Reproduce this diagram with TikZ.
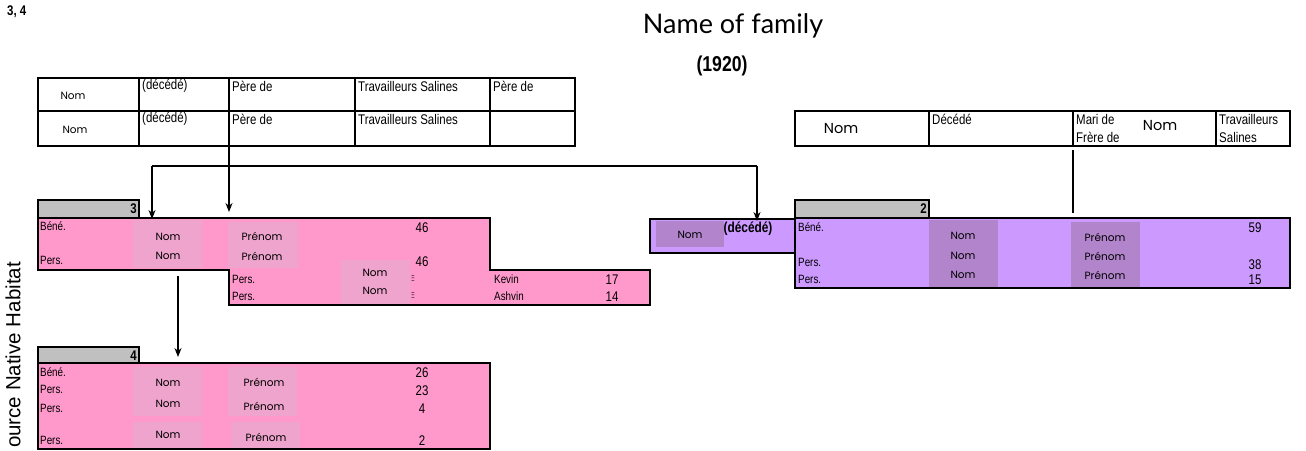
\documentclass[tikz,border=0pt]{standalone}
\usepackage{fontspec}
\setmainfont{Liberation Sans}
\newfontfamily\narrowf[FakeStretch=0.82]{Liberation Sans}
\newfontfamily\geof{Poppins}
\newfontfamily\titlef{Lato}
\usetikzlibrary{arrows.meta}
\definecolor{pinkbg}{RGB}{255,153,204}
\definecolor{pinkcell}{RGB}{238,164,204}
\definecolor{purplebg}{RGB}{204,153,255}
\definecolor{purplecell}{RGB}{178,132,204}
\definecolor{hdrgray}{RGB}{192,192,192}
\tikzset{
  lbl/.style={font=\narrowf\fontsize{12}{12}\selectfont, inner sep=0pt, anchor=west},
  tlbl/.style={font=\narrowf\fontsize{14}{14}\selectfont, inner sep=0pt, anchor=west},
  geo/.style={font=\geof\fontsize{10.5}{10.5}\selectfont, inner sep=0pt, anchor=center},
  bgeo/.style={font=\geof\fontsize{14.5}{14.5}\selectfont, inner sep=0pt, anchor=center},
  num/.style={font=\narrowf\fontsize{14}{14}\selectfont, inner sep=0pt, anchor=center},
  hnum/.style={font=\narrowf\bfseries\fontsize{14}{14}\selectfont, inner sep=0pt, anchor=east},
  tick/.style={font=\fontsize{9}{9}\selectfont, inner sep=0pt, xscale=0.45, yscale=1.4},
  pcell/.style={fill=pinkcell, draw=none, inner sep=0pt, anchor=north west},
  ucell/.style={fill=purplecell, draw=none, inner sep=0pt, anchor=north west},
  tbl/.style={draw, line width=1.4pt},
  outline/.style={line width=2.8pt, line join=miter},
  conn/.style={line width=1.2pt, -{Stealth[length=9pt,width=7pt]}},
  plain/.style={line width=1.2pt}
}
\begin{document}
\begin{tikzpicture}[x=1pt,y=-1pt]
\useasboundingbox[fill=white] (0,0) rectangle (1306,450);

% headings
\node[font=\narrowf\bfseries\fontsize{14}{14}\selectfont, inner sep=0pt, anchor=west] (ref) at (7,12) {3, 4};
\node[font=\titlef\fontsize{27}{27}\selectfont, inner sep=0pt, anchor=base] (title) at (733,33) {Name of family};
\node[font=\narrowf\bfseries\fontsize{21.5}{21.5}\selectfont, inner sep=0pt, anchor=base] (year) at (722,71) {(1920)};
\node[font=\fontsize{20.5}{20.5}\selectfont, inner sep=0pt, rotate=90] (src) at (13,355) {ource Native Habitat};

% top-left table
\draw[tbl] (38,78) rectangle (575,146);
\draw[tbl] (38,111) -- (575,111);
\foreach \cx in {139,229,355,490} \draw[tbl] (\cx,78) -- (\cx,146);
\node[geo] (tn1) at (73,96) {Nom};
\node[tlbl] (td1) at (142,86) {(décédé)};
\node[tlbl] (tp1) at (232,86) {Père de};
\node[tlbl] (tt1) at (358,86) {Travailleurs Salines};
\node[tlbl] (tq1) at (493,86) {Père de};
\node[geo] (tn2) at (75,130) {Nom};
\node[tlbl] (td2) at (142,119) {(décédé)};
\node[tlbl] (tp2) at (232,119) {Père de};
\node[tlbl] (tt2) at (358,119) {Travailleurs Salines};

% top-right table
\draw[tbl] (795,111) rectangle (1290,146);
\foreach \cx in {929,1073,1216} \draw[tbl] (\cx,111) -- (\cx,146);
\node[bgeo] (rn1) at (841,129) {Nom};
\node[tlbl] (rd1) at (932,119) {Décédé};
\node[tlbl] (rm1) at (1076,119) {Mari de};
\begin{scope}
\clip (1073,111) rectangle (1125,146);
\node[tlbl] (rf1) at (1076,137) {Frère de};
\end{scope}
\node[bgeo] (rn2) at (1160,126) {Nom};
\node[tlbl] (rt1) at (1219,119) {Travailleurs};
\node[tlbl] (rt2) at (1219,137) {Salines};

% ---------- box 3 (pink) ----------
\draw[outline, fill=hdrgray] (38,200) rectangle (139,218);
\node[hnum] (h3) at (137,209) {3};
\draw[outline, fill=pinkbg] (38,218) -- (490,218) -- (490,270) -- (650,270) -- (650,305) -- (229,305) -- (229,270) -- (38,270) -- cycle;
\node[pcell, minimum width=69pt, minimum height=48pt] (c3n) at (133,220) {};
\node[pcell, minimum width=70pt, minimum height=46pt] (c3p) at (228,222) {};
\node[pcell, minimum width=69pt, minimum height=44pt] (c3m) at (341,260) {};
\draw[outline] (229,270) -- (229,305) -- (650,305) -- (650,270) -- (490,270) -- (490,218);
\draw[outline] (38,270) -- (229,270);
\node[lbl] (b3a) at (40,226) {Béné.};
\node[lbl] (b3b) at (40,260) {Pers.};
\node[geo] (b3n1) at (168,237) {Nom};
\node[geo] (b3n2) at (168,256) {Nom};
\node[geo] (b3p1) at (262,236) {Prénom};
\node[geo] (b3p2) at (262,256) {Prénom};
\node[num] (b3x1) at (422,228) {46};
\node[num] (b3x2) at (422,262) {46};
\node[lbl] (b3c) at (232,279) {Pers.};
\node[lbl] (b3d) at (232,296) {Pers.};
\node[geo] (b3n3) at (375,273) {Nom};
\node[geo] (b3n4) at (375,291) {Nom};
\node[tick] (b3e1) at (413,279) {$\equiv$};
\node[tick] (b3e2) at (413,296) {$\equiv$};
\node[lbl] (b3k) at (494,279) {Kevin};
\node[lbl] (b3s) at (494,296) {Ashvin};
\node[num] (b3y1) at (612,280) {17};
\node[num] (b3y2) at (612,297) {14};

% ---------- box 4 (pink) ----------
\draw[outline, fill=hdrgray] (38,347) rectangle (139,363);
\node[hnum] (h4) at (137,356) {4};
\draw[outline, fill=pinkbg] (38,363) rectangle (490,449);
\node[pcell, minimum width=69pt, minimum height=49pt] (c4n1) at (133,367) {};
\node[pcell, minimum width=69pt, minimum height=26pt] (c4n2) at (133,422) {};
\node[pcell, minimum width=69pt, minimum height=49pt] (c4p1) at (228,367) {};
\node[pcell, minimum width=69pt, minimum height=26pt] (c4p2) at (231,422) {};
\draw[outline] (38,363) rectangle (490,449);
\node[lbl] (b4a) at (40,372) {Béné.};
\node[lbl] (b4b) at (40,389) {Pers.};
\node[lbl] (b4c) at (40,408) {Pers.};
\node[lbl] (b4d) at (40,440) {Pers.};
\node[geo] (b4n1) at (168,383) {Nom};
\node[geo] (b4n2) at (168,404) {Nom};
\node[geo] (b4n3) at (168,435) {Nom};
\node[geo] (b4p1) at (264,382) {Prénom};
\node[geo] (b4p2) at (264,406) {Prénom};
\node[geo] (b4p3) at (266,437) {Prénom};
\node[num] (b4x1) at (422,373) {26};
\node[num] (b4x2) at (422,391) {23};
\node[num] (b4x3) at (422,409) {4};
\node[num] (b4x4) at (422,441) {2};

% ---------- purple boxes ----------
\draw[outline, fill=purplebg] (650,219) rectangle (795,253);
\node[ucell, minimum width=68pt, minimum height=26pt] (u1n) at (656,221) {};
\draw[outline] (650,219) rectangle (795,253);
\node[geo] (u1t) at (690,235) {Nom};
\node[font=\narrowf\bfseries\fontsize{14.5}{14.5}\selectfont, inner sep=0pt] (u1d) at (748,229) {(décédé)};

\draw[outline, fill=hdrgray] (795,200) rectangle (929,218);
\node[hnum] (h2) at (927,209) {2};
\draw[outline, fill=purplebg] (795,218) rectangle (1290,288);
\node[ucell, minimum width=69pt, minimum height=67pt] (u2n) at (929,220) {};
\node[ucell, minimum width=69pt, minimum height=65pt] (u2p) at (1071,222) {};
\draw[outline] (795,218) rectangle (1290,288);
\node[lbl] (b2a) at (798,227) {Béné.};
\node[lbl] (b2b) at (798,262) {Pers.};
\node[lbl] (b2c) at (798,279) {Pers.};
\node[geo] (b2n1) at (963,236) {Nom};
\node[geo] (b2n2) at (963,256) {Nom};
\node[geo] (b2n3) at (963,275) {Nom};
\node[geo] (b2p1) at (1105,237) {Prénom};
\node[geo] (b2p2) at (1105,256) {Prénom};
\node[geo] (b2p3) at (1105,275) {Prénom};
\node[num] (b2x1) at (1255,228) {59};
\node[num] (b2x2) at (1255,265) {38};
\node[num] (b2x3) at (1255,280) {15};

% ---------- connectors ----------
\coordinate (tabL) at (229,146);
\coordinate (hL) at (152,166);
\coordinate (hR) at (757,166);
\coordinate (in3a) at (152,219);
\coordinate (in3b) at (229,212);
\coordinate (inU) at (757,221);
\coordinate (tabR) at (1073,150);
\coordinate (endR) at (1073,213);
\coordinate (out3) at (178,276);
\coordinate (in4) at (178,357);
\draw[plain] (hL) -- (hR);
\draw[conn] (tabL) -- (in3b);
\draw[conn] (hL) -- (in3a);
\draw[conn] (hR) -- (inU);
\draw[plain] (tabR) -- (endR);
\draw[conn] (out3) -- (in4);
\end{tikzpicture}
\end{document}
